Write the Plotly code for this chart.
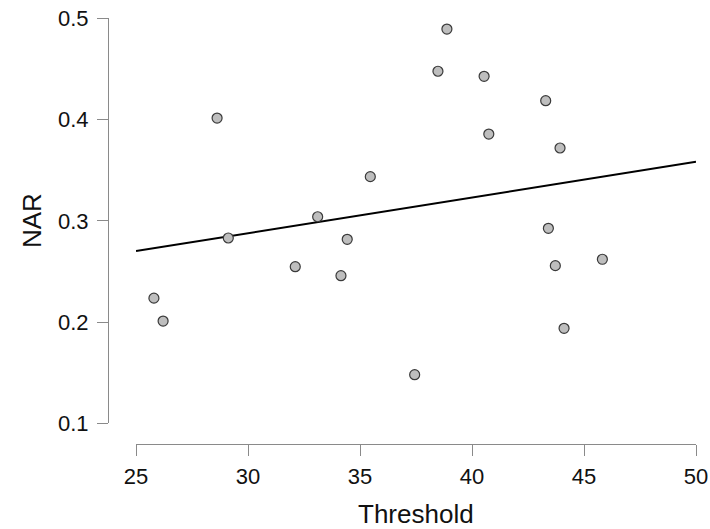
import numpy as np
import plotly.graph_objects as go

threshold = [25.80, 26.21, 28.62, 29.12, 32.11, 33.11, 34.15, 34.43, 35.46, 37.44,
             38.48, 38.88, 40.54, 40.75, 43.29, 43.41, 43.72, 43.93, 44.11, 45.82]
nar = [0.2236, 0.2010, 0.4015, 0.2830, 0.2547, 0.3040, 0.2458, 0.2817, 0.3436, 0.1480,
       0.4477, 0.4894, 0.4427, 0.3857, 0.4186, 0.2926, 0.2557, 0.3719, 0.1938, 0.2620]
x_ticks = [25, 30, 35, 40, 45, 50]
y_ticks = [0.1, 0.2, 0.3, 0.4, 0.5]
y_ticktext = ["0.1", "0.2", "0.3", "0.4", "0.5"]

slope, intercept = np.polyfit(threshold, nar, 1)
fit_x = np.array([25, 50])
fit_y = intercept + slope * fit_x

W, H = 710, 529
FONT = "Liberation Sans, Arial, sans-serif"
AXIS_COL = "#8a8a8a"

fig = go.Figure()
fig.add_trace(go.Scatter(x=fit_x, y=fit_y, mode="lines",
                         line=dict(color="black", width=2), showlegend=False,
                         hoverinfo="skip"))
fig.add_trace(go.Scatter(x=threshold, y=nar, mode="markers",
                         marker=dict(size=10, color="#bebebe",
                                     line=dict(color="#3a3a3a", width=1.2)),
                         showlegend=False, cliponaxis=False))

fig.update_layout(
    template="none",
    width=W, height=H,
    margin=dict(l=0, r=0, t=0, b=0, pad=0),
    paper_bgcolor="white", plot_bgcolor="white",
    font=dict(family=FONT, color="#111111"),
    xaxis=dict(range=[25, 50], domain=[136 / W, 696 / W], anchor="free",
               position=(H - 443.5) / H, showline=True, linecolor=AXIS_COL,
               linewidth=1, ticks="outside", ticklen=11, tickcolor=AXIS_COL,
               tickwidth=1, tickvals=x_ticks, tickfont=dict(size=22, family=FONT, color="#111111"),
               showgrid=False, zeroline=False, ticklabelstandoff=2, automargin=False),
    yaxis=dict(range=[0.1, 0.5], domain=[(H - 423.3) / H, (H - 18.3) / H],
               anchor="free", position=108 / W, showline=True, linecolor=AXIS_COL,
               linewidth=1, ticks="outside", ticklen=11, tickcolor=AXIS_COL,
               tickwidth=1, tickvals=y_ticks, ticktext=y_ticktext,
               tickfont=dict(size=22, family=FONT, color="#111111"),
               showgrid=False, zeroline=False, ticklabelstandoff=4, automargin=False),
    annotations=[
        dict(text="Threshold", x=416 / W, y=(H - 514) / H, xref="paper", yref="paper",
             showarrow=False, font=dict(size=26, family=FONT, color="#111111"),
             xanchor="center", yanchor="middle"),
        dict(text="NAR", x=32 / W, y=(H - 221) / H, xref="paper", yref="paper",
             showarrow=False, textangle=-90, font=dict(size=26, family=FONT, color="#111111"),
             xanchor="center", yanchor="middle"),
    ],
)

fig.write_html("out.html")
